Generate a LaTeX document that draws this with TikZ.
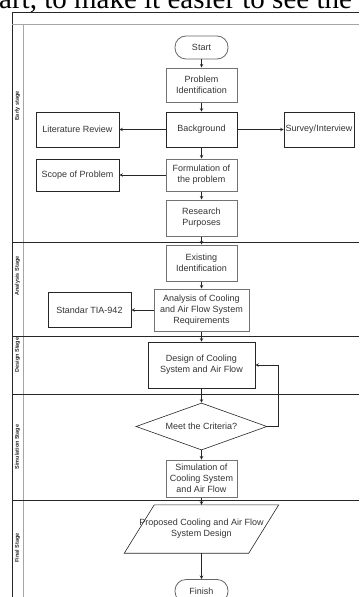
\documentclass[tikz,border=0pt]{standalone}
\usepackage{fontspec}
\setmainfont{Liberation Sans}
\newfontfamily\pagefont{Liberation Serif}
\usepackage{tikz}
\usetikzlibrary{shapes.geometric, arrows}
\tikzstyle{startstop} = [rectangle, rounded corners=11pt, minimum width=53pt, minimum height=23pt, text centered, draw=black!60, line width=0.8pt, text=black!80]
\tikzstyle{process} = [rectangle, minimum width=71pt, minimum height=35pt, align=center, inner sep=1pt, draw=black!85, line width=0.6pt, text=black!80]
\tikzstyle{softprocess} = [process, draw=black!55, line width=1pt]
\tikzstyle{decision} = [diamond, aspect=2.8, minimum width=131pt, minimum height=47pt, inner sep=0pt, text centered, draw=black!85, line width=0.6pt, text=black!80]
\tikzstyle{inout} = [rectangle, minimum width=123pt, minimum height=48pt, inner sep=0pt, align=center, text=black!80]
\tikzstyle{lane} = [line width=0.7pt, draw=black!85]
\tikzstyle{softlane} = [line width=1pt, draw=black!35]
\tikzstyle{lanelabel} = [rotate=90, inner sep=0pt, font=\bfseries\fontsize{5.5}{5.5}\selectfont, text=black!85]
\tikzstyle{arrow} = [line width=0.6pt, draw=black!85, ->, >=stealth]

\begin{document}
\begin{tikzpicture}[x=1pt, y=1pt, node distance=45pt, font=\fontsize{9}{11}\selectfont]

    \useasboundingbox (0,0) rectangle (359,-597);
    \clip (0,0) rectangle (359,-597);

    % text of the page above the chart
    \node (pagetext) [anchor=base west, inner sep=0pt, font=\pagefont\fontsize{29}{29}\selectfont] at (-1,-8.5) {art, to make it easier to see the};

    % pool and lanes
    \draw [lane] (359,-12.5) -- (12,-12.5) -- (12,-597);
    \draw [softlane] (12,-24) -- (359,-24);
    \draw [softlane] (23,-24) -- (23,-597);
    \foreach \sep in {242, 336, 394, 500}
        \draw [lane] (12,-\sep) -- (359,-\sep);

    \node (earlylabel) [lanelabel] at (17.5,-106) {Early stage};
    \node (analysislabel) [lanelabel] at (17.5,-276) {Analysis Stage};
    \node (designlabel) [lanelabel] at (17.5,-355) {Design Stage};
    \node (simulationlabel) [lanelabel] at (17.5,-447) {Simulation Stage};
    \node (finallabel) [lanelabel] at (17.5,-548) {Final Stage};

    % main column
    \node (start) [startstop] at (201.5,-47.5) {Start};
    \node (problemId) [softprocess, below of=start, node distance=37.5pt, minimum height=34pt] {Problem\\Identification};
    \node (background) [process, below of=problemId, node distance=44.5pt] {Background};
    \node (formulation) [softprocess, below of=background, node distance=45.5pt, minimum height=32pt] {Formulation of\\the problem};
    \node (purposes) [softprocess, below of=formulation, node distance=43pt, minimum height=36pt] {Research\\Purposes};
    \node (existing) [softprocess, below of=purposes, minimum height=36pt] {Existing\\Identification};
    \node (analysis) [softprocess, below of=existing, node distance=47pt, minimum width=95pt, minimum height=42pt] {Analysis of Cooling\\and Air Flow System\\Requirements};
    \node (design) [process, below of=analysis, node distance=55pt, minimum width=107pt, minimum height=46pt] {Design of Cooling\\System and Air Flow};
    \node (criteria) [decision, below of=design, node distance=61.5pt] {Meet the Criteria?};
    \node (simulation) [softprocess, below of=criteria, node distance=52pt, minimum height=37pt] {Simulation of\\Cooling System\\and Air Flow};
    \node (proposed) [inout, below of=simulation, node distance=50.5pt] {Proposed Cooling and Air Flow\\System Design};
    \node (finish) [startstop, below of=proposed, node distance=62pt] {Finish};

    \draw [line width=0.6pt, draw=black!85] ([xshift=-15pt]proposed.south west) -- ([xshift=-15pt]proposed.south east) -- ([xshift=15pt]proposed.north east) -- ([xshift=15pt]proposed.north west) -- cycle;

    % side boxes
    \node (literature) [process, left of=background, node distance=124pt, minimum width=83pt] {Literature Review};
    \node (survey) [process, right of=background, node distance=117.5pt, minimum width=70pt, inner sep=0pt] {Survey/Interview};
    \node (scope) [process, left of=formulation, node distance=124pt, minimum width=83pt, minimum height=32pt] {Scope of Problem};
    \node (standard) [process, left of=analysis, node distance=112pt, minimum width=83pt] {Standar TIA-942};

    \draw [arrow] (start) -- (problemId);
    \draw [arrow] (problemId) -- (background);
    \draw [arrow] (background) -- (formulation);
    \draw [arrow] (formulation) -- (purposes);
    \draw [arrow] (purposes) -- (existing);
    \draw [arrow] (existing) -- (analysis);
    \draw [arrow] (analysis) -- (design);
    \draw [arrow] (design) -- (criteria);
    \draw [arrow] (criteria) -- (simulation);
    \draw [arrow] (simulation) -- (proposed);
    \draw [arrow] (proposed) -- (finish);
    \draw [arrow] (criteria.east) -- ++(11,0) |- (design.east);
    \draw [arrow] (background.west) -- (literature.east);
    \draw [arrow] (background.east) -- (survey.west);
    \draw [arrow] (formulation.west) -- (scope.east);
    \draw [arrow] (analysis.west) -- (standard.east);

\end{tikzpicture}
\end{document}
